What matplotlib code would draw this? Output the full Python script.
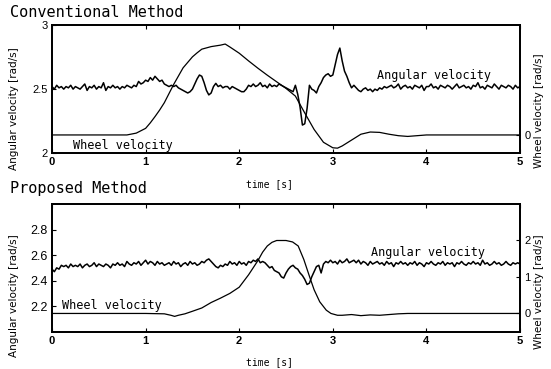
import numpy as np
import matplotlib
matplotlib.use("Agg")
import matplotlib.pyplot as plt

# sampling of the angular velocity records
dt = 0.025
t_ang = np.arange(201) * dt

# Conventional method - angular velocity [rad/s]
conv_ang = [
    2.52, 2.50, 2.53, 2.51, 2.52, 2.50, 2.52, 2.51, 2.53, 2.50,
    2.52, 2.51, 2.50, 2.52, 2.54, 2.49, 2.52, 2.51, 2.53, 2.50,
    2.52, 2.51, 2.55, 2.49, 2.52, 2.51, 2.53, 2.51, 2.52, 2.50,
    2.52, 2.51, 2.53, 2.52, 2.51,
    2.53, 2.52, 2.56, 2.54, 2.55, 2.57, 2.56, 2.59, 2.57, 2.60,
    2.58, 2.56, 2.57, 2.54, 2.53, 2.52,
    2.53, 2.52, 2.53, 2.51, 2.50, 2.49, 2.48, 2.47, 2.48, 2.50,
    2.54, 2.58, 2.61, 2.60, 2.55, 2.49, 2.455, 2.47, 2.52, 2.545,
    2.52, 2.53, 2.51, 2.52, 2.52, 2.50, 2.52, 2.51, 2.50, 2.49, 2.48, 2.48,
    2.50, 2.53, 2.52, 2.54, 2.52, 2.53, 2.55, 2.52, 2.53, 2.51,
    2.54, 2.52, 2.53, 2.52, 2.54, 2.53,
    2.52, 2.51, 2.50, 2.49, 2.48, 2.53, 2.46, 2.36, 2.22,
    2.23, 2.35, 2.53, 2.50, 2.49, 2.47, 2.52, 2.55, 2.59, 2.61, 2.62,
    2.60, 2.61, 2.69, 2.77, 2.82, 2.72, 2.64, 2.60, 2.55, 2.51, 2.53, 2.51,
    2.49, 2.48, 2.50, 2.51, 2.49, 2.50, 2.48, 2.50, 2.49, 2.51,
    2.50, 2.52, 2.51, 2.52,
    2.53, 2.51, 2.52, 2.54, 2.50, 2.52, 2.53, 2.51, 2.52, 2.50,
    2.53, 2.52, 2.51, 2.53, 2.49, 2.52, 2.52, 2.54, 2.51, 2.52,
    2.50, 2.53, 2.52, 2.51, 2.53, 2.52, 2.50, 2.52, 2.54, 2.51,
    2.52, 2.53, 2.51, 2.52, 2.50, 2.53, 2.52, 2.55, 2.51, 2.52,
    2.50, 2.53, 2.52, 2.51, 2.54, 2.52, 2.50, 2.53, 2.52, 2.51,
    2.53, 2.52, 2.50, 2.53, 2.51, 2.52,
]

# Conventional method - wheel velocity [rad/s]
conv_wheel_t = [0, 0.8, 0.9, 1.0, 1.05, 1.1, 1.15, 1.2, 1.3, 1.4, 1.5, 1.55,
                1.6, 1.7, 1.8, 1.85, 1.9, 2.0, 2.1, 2.2, 2.3, 2.4, 2.5, 2.6,
                2.7, 2.8, 2.9, 3.0, 3.05, 3.1, 3.2, 3.3, 3.4, 3.5, 3.6, 3.7,
                3.8, 3.9, 4.0, 5.0]
conv_wheel = [0, 0, 0.05, 0.18, 0.33, 0.5, 0.68, 0.88, 1.38, 1.83, 2.13, 2.24,
              2.34, 2.41, 2.45, 2.48, 2.4, 2.23, 2.02, 1.82, 1.63, 1.45, 1.27, 1.06,
              0.6, 0.15, -0.2, -0.35, -0.36, -0.3, -0.14, 0.02, 0.08, 0.07, 0.02, -0.02,
              -0.04, -0.02, 0, 0]

# Proposed method - angular velocity [rad/s]
prop_ang = [
    2.49, 2.47, 2.50, 2.49, 2.52, 2.51, 2.52, 2.50, 2.53, 2.51,
    2.52, 2.51, 2.53, 2.50, 2.52, 2.53, 2.51, 2.52, 2.54, 2.51,
    2.53, 2.52, 2.51, 2.53, 2.52, 2.50, 2.53, 2.52, 2.54, 2.52,
    2.53, 2.51, 2.55, 2.53, 2.52, 2.54, 2.53, 2.55, 2.52, 2.54,
    2.56, 2.53, 2.55, 2.54, 2.52, 2.55, 2.53, 2.54, 2.52, 2.53,
    2.54, 2.52, 2.55, 2.53, 2.54, 2.51, 2.53, 2.54, 2.52, 2.55,
    2.53, 2.54, 2.52, 2.53, 2.55, 2.54, 2.56, 2.57, 2.55, 2.53,
    2.51, 2.50, 2.52, 2.51, 2.53, 2.52, 2.55, 2.53, 2.54, 2.52,
    2.55, 2.53, 2.54, 2.52, 2.55, 2.54, 2.56, 2.55, 2.57, 2.54,
    2.55, 2.54, 2.52, 2.50, 2.51, 2.48, 2.47, 2.46, 2.43, 2.42,
    2.46, 2.49, 2.51, 2.52, 2.50, 2.49, 2.46, 2.44, 2.41, 2.37,
    2.38, 2.43, 2.47, 2.51, 2.52, 2.46, 2.53, 2.55, 2.54, 2.56,
    2.54, 2.55, 2.53, 2.56, 2.54, 2.55, 2.57, 2.54, 2.55, 2.56,
    2.54, 2.56, 2.53, 2.55, 2.54, 2.52, 2.55, 2.53, 2.54, 2.55,
    2.53, 2.54, 2.52, 2.55, 2.53, 2.54, 2.51, 2.54, 2.53, 2.55,
    2.53, 2.54, 2.52, 2.54, 2.53, 2.55, 2.52, 2.54, 2.53, 2.51,
    2.54, 2.53, 2.55, 2.53, 2.52, 2.54, 2.53, 2.55, 2.52, 2.54,
    2.53, 2.54, 2.51, 2.54, 2.53, 2.55, 2.53, 2.52, 2.54, 2.53,
    2.55, 2.53, 2.54, 2.52, 2.56, 2.53, 2.54, 2.52, 2.53, 2.55,
    2.53, 2.54, 2.52, 2.53, 2.55, 2.53, 2.52, 2.54, 2.53, 2.54,
    2.53,
]

# Proposed method - wheel velocity [rad/s]
prop_wheel_t = [0, 1.0, 1.2, 1.27, 1.31, 1.35, 1.42, 1.5, 1.6, 1.7,
                1.8, 1.9, 2.0, 2.1, 2.2, 2.25, 2.3, 2.35, 2.4, 2.5, 2.57,
                2.63, 2.69, 2.75, 2.8, 2.86, 2.93, 2.98, 3.05, 3.1, 3.2,
                3.3, 3.4, 3.5, 3.6, 3.7, 3.8, 4.0, 5.0]
prop_wheel = [0, 0, -0.01, -0.05, -0.08, -0.05, -0.01, 0.06, 0.15, 0.3,
              0.42, 0.55, 0.72, 1.06, 1.45, 1.68, 1.85, 1.95, 2.0, 2.0, 1.96,
              1.85, 1.48, 1.02, 0.65, 0.32, 0.09, 0.0, -0.05, -0.05, -0.03,
              -0.06, -0.04, -0.05, -0.03, -0.01, 0, 0, 0]

mono = "DejaVu Sans Mono"
lab_font = dict(family="DejaVu Sans", fontsize=7.5)

fig = plt.figure(figsize=(5.51, 3.69), dpi=100)
ax1 = fig.add_axes([0.0944, 0.5846, 0.8494, 0.3477])
ax2 = fig.add_axes([0.0944, 0.1011, 0.8494, 0.3460])

panels = [
    (ax1, conv_ang, conv_wheel_t, conv_wheel, "Conventional Method",
     [2, 2.5, 3], ["2", "2.5", "3"], [0], 0.06, 0.045, 0.61, 0.694),
    (ax2, prop_ang, prop_wheel_t, prop_wheel, "Proposed Method",
     [2.2, 2.4, 2.6, 2.8], ["2.2", "2.4", "2.6", "2.8"], [0, 1, 2], 0.204, 0.022, 0.62, 0.682),
]

for ax, ang, wt, wv, title, lt, ltl, rt, wy, wx, ay, ax_x in panels:
    axr = ax.twinx()
    ax.plot(t_ang, ang, color="black", lw=1.1)
    axr.plot(wt, wv, color="black", lw=0.9)
    ax.set_xlim(0, 5)
    ax.set_ylim(2, 3)
    axr.set_ylim(-0.5, 3.0)
    ax.set_xticks([0, 1, 2, 3, 4, 5])
    ax.set_xticklabels(["0", "1", "2", "3", "4", "5"], fontweight="bold",
                       fontsize=8, family="Liberation Sans")
    ax.set_yticks(lt)
    ax.set_yticklabels(ltl, fontsize=8 if ax is ax1 else 9, family="Liberation Sans")
    axr.set_yticks(rt)
    axr.set_yticklabels([str(v) for v in rt], fontsize=8, family="Liberation Sans")
    ax.tick_params(direction="in", length=3, width=0.8, top=True, pad=3)
    axr.tick_params(direction="in", length=3, width=0.8, pad=3)
    for a in (ax, axr):
        for s in a.spines.values():
            s.set_linewidth(1.3)
    ax.set_ylabel("Angular velocity [rad/s]", labelpad=2, **lab_font)
    ax.yaxis.set_label_coords(-0.07, 0.35 if ax is ax1 else 0.28)
    # right-hand axis title, kept inside the figure
    axr.text(1.04, 0.33 if ax is ax1 else 0.31, "Wheel velocity [rad/s]",
             transform=axr.transAxes, rotation=90, ha="center", va="center",
             **lab_font)
    ax.set_xlabel("time [s]", family=mono, fontsize=7)
    ax.xaxis.set_label_coords(0.465, -0.2)
    ax.text(wx, wy, "Wheel velocity", transform=ax.transAxes, family=mono,
            fontsize=8.5, va="center", ha="left")
    ax.text(ax_x, ay, "Angular velocity", transform=ax.transAxes, family=mono,
            fontsize=8.5, va="center", ha="left")
    ax.text(-0.09, 1.095 if ax is ax1 else 1.125, title, transform=ax.transAxes,
            family=mono, fontsize=11, va="center", ha="left")

fig.savefig("out.png", dpi=100)
